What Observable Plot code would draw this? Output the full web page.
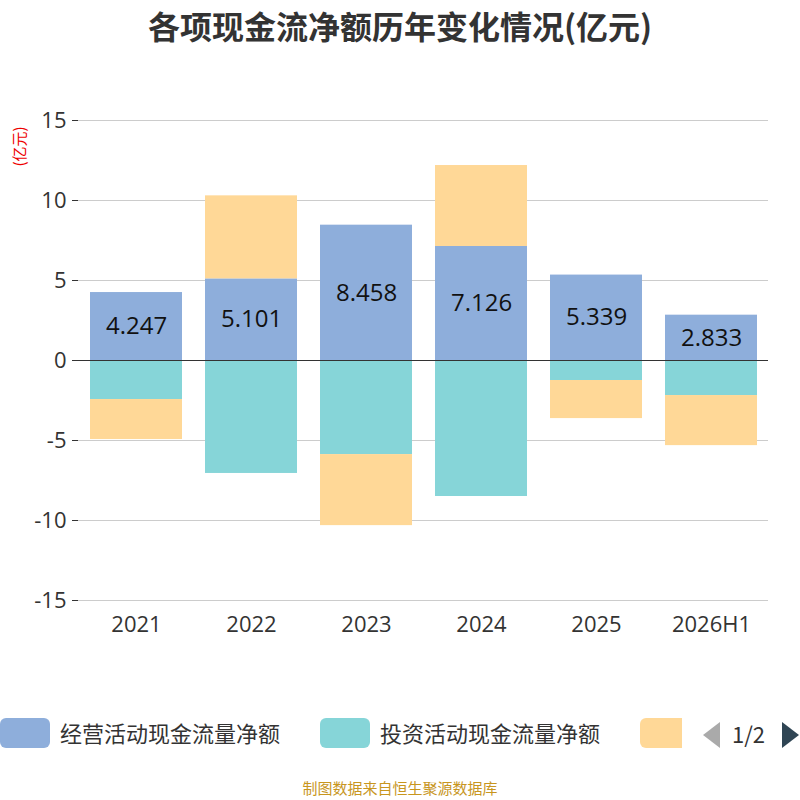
<!DOCTYPE html>
<html><head><meta charset="utf-8">
<script src="https://cdn.jsdelivr.net/npm/d3@7"></script>
<script src="https://cdn.jsdelivr.net/npm/@observablehq/plot@0.6"></script>
<style>
body{margin:0;width:800px;height:800px;position:relative;font-family:"Noto Sans CJK SC","Noto Sans",sans-serif;background:#fff;overflow:hidden}
#title{position:absolute;top:2px;left:0;width:800px;text-align:center;font-size:32px;font-weight:bold;color:#333}
#unit{position:absolute;left:-10px;top:136px;transform:rotate(-90deg);color:#e00;font-size:15px;width:56px;text-align:center}
#chart{position:absolute;top:0;left:0}
#legend{position:absolute;top:716px;left:0;width:800px;height:36px;font-size:22px;color:#333}
.sw{position:absolute;top:2px;width:50px;height:30px;border-radius:6px}
.lt{position:absolute;top:0}
#footer{position:absolute;top:777px;width:800px;text-align:center;color:#c8961e;font-size:15px}
</style></head><body>
<div id="chart"></div>
<div id="title">各项现金流净额历年变化情况(亿元)</div>
<div id="unit">(亿元)</div>
<div id="legend">
<div class="sw" style="left:0;background:#8eaedb"></div><div class="lt" style="left:60px">经营活动现金流量净额</div>
<div class="sw" style="left:320px;background:#86d5d8"></div><div class="lt" style="left:380px">投资活动现金流量净额</div>
<div class="sw" style="left:640px;background:#ffd897;width:42px;border-radius:6px 0 0 6px"></div>
<svg style="position:absolute;left:700px;top:4px" width="100" height="32"><polygon points="20,2 20,28 3,15" fill="#aaa"/><text x="32" y="23" font-size="22" fill="#333">1/2</text><polygon points="82,2 82,28 99,15" fill="#2f4554"/></svg>
</div>
<div id="footer">制图数据来自恒生聚源数据库</div>
<script>
const years = ["2021","2022","2023","2024","2025","2026H1"];
const operating = [4.247,5.101,8.458,7.126,5.339,2.833];
const investing = [-2.44,-7.06,-5.88,-8.5,-1.25,-2.19];
const financing = [-2.5,5.19,-4.44,5.06,-2.38,-3.13];
const seriesNames = ["经营活动现金流量净额","投资活动现金流量净额","筹资活动现金流量净额"];
const colors = ["#8eaedb","#86d5d8","#ffd897"];
const yTicks = [-15,-10,-5,0,5,10,15];
const data = [];
[operating,investing,financing].forEach((arr,si)=>arr.forEach((v,i)=>data.push({year:years[i],series:seriesNames[si],value:v})));
const opData = years.map((y,i)=>({year:y,value:operating[i]}));
const plot = Plot.plot({
  width:800,height:660,marginTop:120,marginBottom:60,marginLeft:78,marginRight:32,
  style:{fontFamily:"'Open Sans','Noto Sans',sans-serif",fontSize:"22px",color:"#333"},
  x:{domain:years,paddingInner:0.2,paddingOuter:0.1,label:null},
  y:{domain:[-15,15],ticks:yTicks,label:null},
  color:{domain:seriesNames,range:colors},
  marks:[
    Plot.gridY(yTicks,{stroke:"#ccc",strokeOpacity:1}),
    Plot.axisY({ticks:yTicks,tickSize:6,tickPadding:6,label:null,fontSize:22,tickFormat:d=>String(d)}),
    Plot.axisX({tickSize:0,tickPadding:16,fontSize:22,label:null}),
    Plot.ruleX([0],{frameAnchor:"left",stroke:"#333"}),
    Plot.barY(data,{x:"year",y:"value",fill:"series",order:seriesNames}),
    Plot.ruleY([0],{stroke:"#333"}),
    Plot.text(opData,{x:"year",y:d=>d.value/2,text:d=>d.value.toFixed(3),fontSize:24,fill:"#111"})
  ]
});
document.getElementById("chart").appendChild(plot);
</script>
</body></html>
